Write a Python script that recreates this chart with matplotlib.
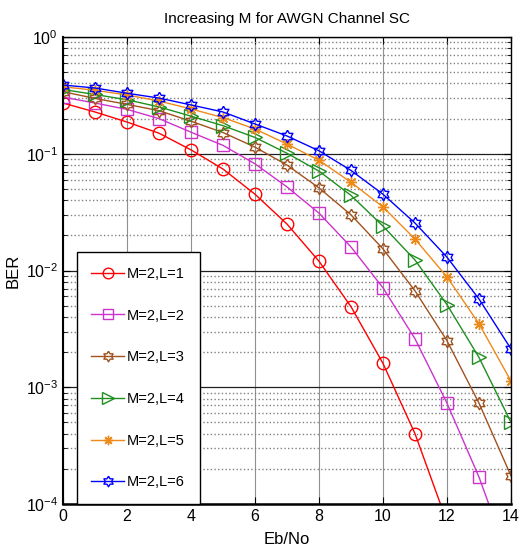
import numpy as np
import matplotlib
matplotlib.use("Agg")
import matplotlib.pyplot as plt
from matplotlib.ticker import LogLocator, FixedLocator

plt.rcParams['font.family'] = ['Liberation Sans', 'DejaVu Sans']

ebno = [0, 1, 2, 3, 4, 5, 6, 7, 8, 9, 10, 11, 12, 13, 14]

ber_l1 = [0.272, 0.228, 0.187, 0.150, 0.108, 0.074, 0.045, 0.025, 0.012,
          0.0049, 0.0016, 0.0004, 7e-5, 1.1e-5, 1.5e-6]
ber_l2 = [0.306, 0.272, 0.240, 0.200, 0.153, 0.118, 0.082, 0.052, 0.031,
          0.0159, 0.0071, 0.0026, 0.00073, 0.00017, 3e-5]
ber_l3 = [0.340, 0.298, 0.265, 0.234, 0.190, 0.152, 0.114, 0.080, 0.051,
          0.030, 0.0153, 0.0067, 0.0025, 0.00073, 0.000174]
ber_l4 = [0.355, 0.322, 0.290, 0.252, 0.210, 0.174, 0.138, 0.101, 0.071,
          0.044, 0.024, 0.0123, 0.0051, 0.0018, 0.0005]
ber_l5 = [0.375, 0.350, 0.319, 0.283, 0.242, 0.204, 0.163, 0.121, 0.088,
          0.057, 0.035, 0.0186, 0.0088, 0.0035, 0.00113]
ber_l6 = [0.388, 0.366, 0.330, 0.300, 0.262, 0.228, 0.180, 0.142, 0.106,
          0.072, 0.045, 0.0255, 0.013, 0.0057, 0.00213]

labels = ["M=2,L=1", "M=2,L=2", "M=2,L=3", "M=2,L=4", "M=2,L=5", "M=2,L=6"]
colors = ["#ff0000", "#cc33cc", "#a0521e", "#1f8f1f", "#ee8a1a", "#0000ff"]

# six-pointed star (hexagram) marker
ang = np.arange(12) * np.pi / 6 + np.pi / 2
rad = np.where(np.arange(12) % 2 == 0, 1.0, 0.58)
hexagram = list(zip(rad * np.cos(ang), rad * np.sin(ang)))
hexagram.append(hexagram[0])

markers = ["o", "s", hexagram, ">", (8, 2, 0), hexagram]
msizes = [9, 9, 9, 10, 8, 9]
series = [ber_l1, ber_l2, ber_l3, ber_l4, ber_l5, ber_l6]

fig = plt.figure(figsize=(5.19, 5.51), dpi=100)
ax = fig.add_axes([0.1214, 0.0853, 0.8632, 0.8475])

for ber, lab, col, mk, ms in zip(series, labels, colors, markers, msizes):
    ax.semilogy(ebno, ber, color=col, marker=mk, markersize=ms,
                markerfacecolor="none", markeredgecolor=col, markeredgewidth=1.0,
                linewidth=1.0, label=lab)

ax.set_xlim(0, 14)
ax.set_ylim(1e-4, 1)
ax.set_xticks(range(0, 15, 2))
ax.yaxis.set_major_locator(LogLocator(base=10, numticks=10))
ax.yaxis.set_minor_locator(LogLocator(base=10, subs=np.arange(2, 10), numticks=10))
ax.xaxis.set_minor_locator(FixedLocator([]))

ax.grid(True, which="major", axis="x", color="#909090", linestyle="-", linewidth=0.8)
ax.grid(True, which="major", axis="y", color="#202020", linestyle="-", linewidth=0.9)
ax.grid(True, which="minor", axis="y", color="#808080", linestyle=":", linewidth=1.0)

ax.tick_params(which="both", direction="in", top=True, right=True, labelsize=11.5)
ax.tick_params(which="major", length=5)
ax.tick_params(which="minor", length=3)
for sp in ax.spines.values():
    sp.set_linewidth(1.0)
ax.spines["bottom"].set_linewidth(1.8)
ax.spines["left"].set_linewidth(1.5)

ax.set_title("Increasing M for AWGN Channel SC", fontsize=11, pad=10)
ax.set_xlabel("Eb/No", fontsize=12, labelpad=6)
ax.set_ylabel("BER", fontsize=12, labelpad=4)

leg = ax.legend(loc="lower left", bbox_to_anchor=(0.031, 0.0), fontsize=10.5,
                fancybox=False, framealpha=1, edgecolor="black",
                labelspacing=1.9, handlelength=2.2, borderpad=1.0,
                handletextpad=0.25, borderaxespad=0.0, markerscale=0.85)
leg.get_frame().set_linewidth(1.0)

fig.savefig("out.png", dpi=100)
